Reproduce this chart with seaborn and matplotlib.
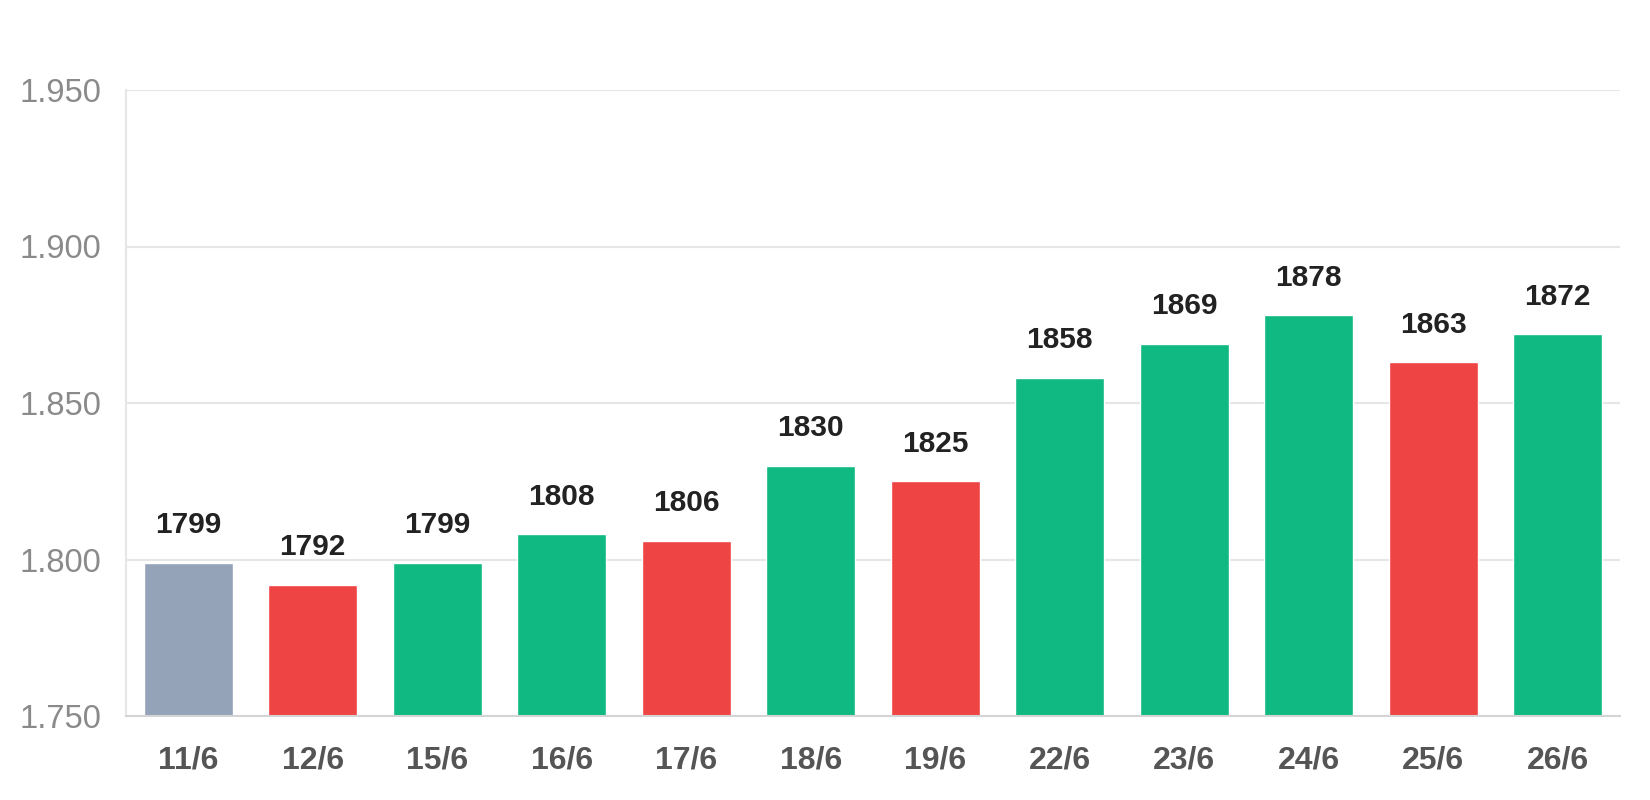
import numpy as np
import pandas as pd
import matplotlib.pyplot as plt
import seaborn as sns
from matplotlib.ticker import FuncFormatter

# Dữ liệu
dates = ['11/6', '12/6', '15/6', '16/6', '17/6', '18/6', '19/6', '22/6', '23/6', '24/6', '25/6', '26/6']
values = [1799, 1792, 1799, 1808, 1806, 1830, 1825, 1858, 1869, 1878, 1863, 1872]

GRAY = '#94A3B8'
RED = '#EF4444'
GREEN = '#10B981'

# màu theo hướng tăng/giảm so với phiên trước
colors = [GRAY]
for prev, cur in zip(values[:-1], values[1:]):
    colors.append(GREEN if cur >= prev else RED)

df = pd.DataFrame({'date': dates, 'value': values})

sns.set_style('white')
plt.rcParams['font.family'] = ['Liberation Sans', 'DejaVu Sans']

fig = plt.figure(figsize=(16.5, 8), dpi=100)
ax = fig.add_axes([126 / 1650, 1 - 716 / 800, (1620 - 126) / 1650, (716 - 90) / 800])

sns.barplot(data=df, x='date', y='value', hue='date', palette=colors,
            legend=False, width=0.715, saturation=1, ax=ax)

ax.set_ylim(1750, 1950)
ax.set_yticks([1750, 1800, 1850, 1900, 1950])
ax.yaxis.set_major_formatter(FuncFormatter(lambda v, p: f'{v:,.0f}'.replace(',', '.')))
ax.grid(axis='y', color='#e6e6e6', linewidth=1.5)
ax.set_axisbelow(True)

for s in ['top', 'right']:
    ax.spines[s].set_visible(False)
ax.spines['left'].set_color('#e6e6e6')
ax.spines['left'].set_linewidth(1.5)
ax.spines['bottom'].set_color('#d4d4d4')
ax.spines['bottom'].set_linewidth(1.5)

ax.tick_params(axis='y', length=14, width=1.5, color='#e6e6e6', pad=4,
               labelsize=23.5, labelcolor='#8a8a8a')
ax.tick_params(axis='x', length=0, pad=21, labelsize=23, labelcolor='#555555')
for lbl in ax.get_xticklabels():
    lbl.set_fontweight('bold')

ax.set_xlabel('')
ax.set_ylabel('')

for cont in ax.containers:
    ax.bar_label(cont, fmt='%d', padding=17, fontsize=21.5, fontweight='bold', color='#222222')

fig.savefig('out.png', dpi=100, facecolor='white')
